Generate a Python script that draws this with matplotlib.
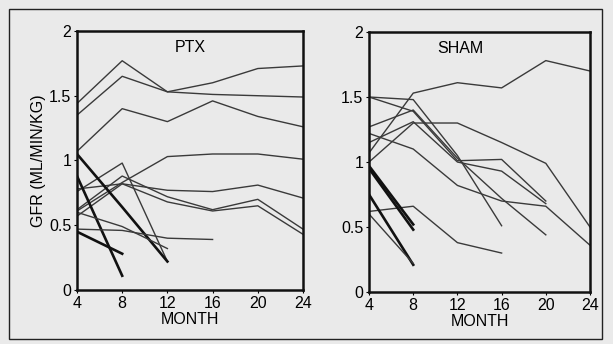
import matplotlib
matplotlib.use("Agg")
import matplotlib.pyplot as plt
from matplotlib.patches import Rectangle

plt.rcParams["font.family"] = ["Liberation Sans", "DejaVu Sans"]

months = [4, 8, 12, 16, 20, 24]
month_ticks = [4, 8, 12, 16, 20, 24]
gfr_ticks = [0, 0.5, 1, 1.5, 2]
gfr_tick_labels = ["0", "0.5", "1", "1.5", "2"]

# PTX animals: (values from month 4 onward, thick line?)
ptx_series = [
    ([1.44, 1.77, 1.53, 1.60, 1.71, 1.73], False),
    ([1.35, 1.65, 1.53, 1.51, 1.50, 1.49], False),
    ([1.07, 1.40, 1.30, 1.46, 1.34, 1.26], False),
    ([0.61, 0.83, 1.03, 1.05, 1.05, 1.01], False),
    ([0.78, 0.82, 0.77, 0.76, 0.81, 0.71], False),
    ([0.62, 0.88, 0.72, 0.62, 0.70, 0.47], False),
    ([0.57, 0.82, 0.68, 0.61, 0.65, 0.43], False),
    ([0.76, 0.98, 0.22], False),
    ([1.05, 0.64, 0.22], True),
    ([0.88, 0.11], True),
    ([0.45, 0.28], True),
    ([0.47, 0.46, 0.40, 0.39], False),
    ([0.60, 0.49, 0.32], False),
]

sham_series = [
    ([1.07, 1.53, 1.61, 1.57, 1.78, 1.70], False),
    ([1.50, 1.48, 1.05, 0.51], False),
    ([1.50, 1.39, 1.01, 1.02, 0.70], False),
    ([1.27, 1.40, 1.03, 0.72, 0.44], False),
    ([1.22, 1.10, 0.82, 0.70, 0.66, 0.36], False),
    ([1.00, 1.30, 1.30, 1.15, 0.99, 0.50], False),
    ([1.15, 1.31, 1.00, 0.93, 0.68], False),
    ([0.62, 0.66, 0.38, 0.30], False),
    ([0.97, 0.52], True),
    ([0.95, 0.48], True),
    ([0.75, 0.21], True),
    ([0.60, 0.22], False),
]

bg = "#eaeaea"
fs = 11.5
fig = plt.figure(figsize=(6.13, 3.44), dpi=100, facecolor=bg)
fig.patches.append(Rectangle((0.014, 0.015), 0.968, 0.96, transform=fig.transFigure,
                             fill=False, edgecolor="#222222", linewidth=1.0))


def draw_panel(ax, series, title, title_x, ylabel=None):
    ax.set_facecolor(bg)
    for values, thick in series:
        ax.plot(months[:len(values)], values,
                color="#111111" if thick else "#3a3a3a",
                linewidth=1.9 if thick else 1.0)
    ax.set_xlim(4, 24)
    ax.set_ylim(0, 2)
    ax.set_xticks(month_ticks)
    ax.set_yticks(gfr_ticks)
    ax.set_yticklabels(gfr_tick_labels)
    ax.tick_params(labelsize=fs, length=2, width=0.8, pad=2)
    for s in ax.spines.values():
        s.set_linewidth(1.8)
        s.set_color("#111111")
    ax.set_xlabel("MONTH", fontsize=fs, labelpad=1)
    if ylabel:
        ax.set_ylabel(ylabel, fontsize=fs, labelpad=2)
    ax.text(title_x, 1.87, title, fontsize=fs, ha="center", va="center")


ax1 = fig.add_axes([0.1256, 0.157, 0.3687, 0.753])
ax2 = fig.add_axes([0.602, 0.151, 0.3605, 0.756])
draw_panel(ax1, ptx_series, "PTX", 14.0, "GFR (ML/MIN/KG)")
draw_panel(ax2, sham_series, "SHAM", 12.3)

fig.savefig("out.png", dpi=100, facecolor=bg)
